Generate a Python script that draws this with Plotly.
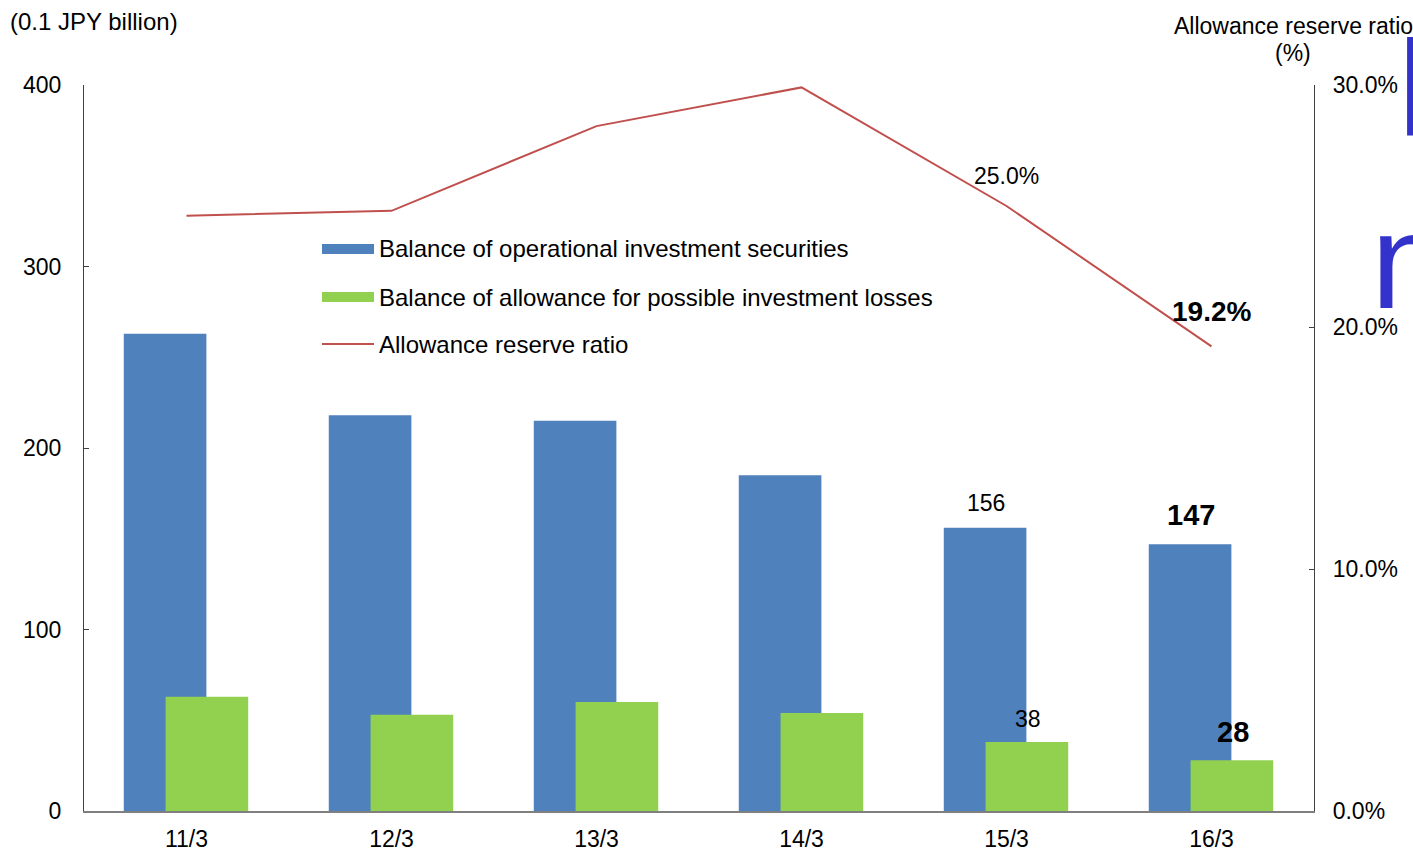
import plotly.graph_objects as go

categories = ["11/3", "12/3", "13/3", "14/3", "15/3", "16/3"]
securities = [263, 218, 215, 185, 156, 147]
allowance = [63, 53, 60, 54, 38, 28]
ratio = [0.246, 0.248, 0.283, 0.299, 0.250, 0.192]
series_names = ["Balance of operational investment securities",
                "Balance of allowance for possible investment losses",
                "Allowance reserve ratio"]

BLUE = "#4F81BD"
GREEN = "#92D050"
RED = "#C0504D"
FONT = "Liberation Sans, Arial, sans-serif"
FS = 23
FSL = 24

L, R, T, B = 84, 99, 85, 38
W, H = 1413, 849
PW, PH = W - L - R, H - T - B


def px(x):
    return (x - L) / PW


def py(y):
    return (H - B - y) / PH


fig = go.Figure()
fig.add_trace(go.Bar(
    x=categories, y=securities, name=series_names[0],
    marker=dict(color=BLUE, line=dict(width=0)), width=0.403, offset=-0.306,
))
fig.add_trace(go.Bar(
    x=categories, y=allowance, name=series_names[1],
    marker=dict(color=GREEN, line=dict(width=0)), width=0.403, offset=-0.102,
))
fig.add_trace(go.Scatter(
    x=categories, y=ratio, name=series_names[2], mode="lines",
    line=dict(color=RED, width=2), yaxis="y2",
))

annotations = []
# data labels
annotations.append(dict(x=categories[4], y=securities[4], text=str(securities[4]),
                        xshift=-21, yshift=25, font=dict(size=FS)))
annotations.append(dict(x=categories[5], y=securities[5], text="<b>%d</b>" % securities[5],
                        xshift=-21, yshift=29, font=dict(size=29)))
annotations.append(dict(x=categories[4], y=allowance[4], text=str(allowance[4]),
                        xshift=21, yshift=23, font=dict(size=FS)))
annotations.append(dict(x=categories[5], y=allowance[5], text="<b>%d</b>" % allowance[5],
                        xshift=21, yshift=28, font=dict(size=29)))
annotations.append(dict(x=categories[4], y=ratio[4], yref="y2", text="%.1f%%" % (ratio[4] * 100),
                        xshift=0, yshift=30, font=dict(size=FS)))
annotations.append(dict(x=categories[5], y=ratio[5], yref="y2", text="<b>%.1f%%</b>" % (ratio[5] * 100),
                        xshift=0, yshift=35, font=dict(size=28)))
for a in annotations:
    a.setdefault("yref", "y")
    a.update(xref="x", showarrow=False, yanchor="middle", xanchor="center")
    a["font"].update(color="#000000", family=FONT)

# titles
annotations.append(dict(xref="paper", yref="paper", x=px(8), y=py(22), text="(0.1 JPY billion)",
                        showarrow=False, xanchor="left", yanchor="middle",
                        font=dict(size=FSL, color="#000000", family=FONT)))
annotations.append(dict(xref="paper", yref="paper", x=px(1172), y=py(26), text="Allowance reserve ratio",
                        showarrow=False, xanchor="left", yanchor="middle",
                        font=dict(size=FS, color="#000000", family=FONT)))
annotations.append(dict(xref="paper", yref="paper", x=px(1293), y=py(53), text="(%)",
                        showarrow=False, xanchor="center", yanchor="middle",
                        font=dict(size=FS, color="#000000", family=FONT)))
# cropped overlapping slide letters at the right edge
annotations.append(dict(xref="paper", yref="paper", x=px(1396), y=py(11), text="l",
                        showarrow=False, xanchor="left", yanchor="top",
                        font=dict(size=135, color="#3333CC", family=FONT)))
annotations.append(dict(xref="paper", yref="paper", x=px(1369), y=py(339), text="n",
                        showarrow=False, xanchor="left", yanchor="bottom",
                        font=dict(size=136, color="#3333CC", family=FONT)))

# custom legend (wide swatches as in the reference)
shapes = []
legend_rows = [249, 297, 344]
legend_styles = [("bar", BLUE), ("bar", GREEN), ("line", RED)]
for name, yc, (kind, col) in zip(series_names, legend_rows, legend_styles):
    if kind == "bar":
        shapes.append(dict(type="rect", xref="paper", yref="paper", x0=px(322), x1=px(374),
                           y0=py(yc + 5), y1=py(yc - 5), fillcolor=col, line=dict(width=0)))
    else:
        shapes.append(dict(type="line", xref="paper", yref="paper", x0=px(322), x1=px(374),
                           y0=py(yc), y1=py(yc), line=dict(color=col, width=2)))
    annotations.append(dict(xref="paper", yref="paper", x=px(377), y=py(yc), text=name,
                            showarrow=False, xanchor="left", yanchor="middle",
                            font=dict(size=FSL, color="#000000", family=FONT)))

fig.update_layout(
    width=W, height=H,
    margin=dict(l=L, r=R, t=T, b=B, pad=0, autoexpand=False),
    paper_bgcolor="white", plot_bgcolor="white",
    barmode="overlay",
    font=dict(family=FONT, size=FS, color="#000000"),
    showlegend=False,
    xaxis=dict(type="category", showgrid=False, showline=True, linecolor="#7F7F7F", linewidth=1.5,
               ticks="", tickfont=dict(size=FS, color="#000000"), ticklabelstandoff=7,
               range=[-0.5, 5.5], automargin=False),
    yaxis=dict(range=[0, 400], tickvals=[0, 100, 200, 300, 400], showgrid=False, zeroline=False,
               showline=True, linecolor="#404040", linewidth=1.2, ticks="inside", ticklen=5,
               tickcolor="#404040", tickfont=dict(size=FS, color="#000000"), ticklabelstandoff=17,
               automargin=False),
    yaxis2=dict(range=[0, 0.30], tickvals=[0, 0.1, 0.2, 0.3], tickformat=".1%", overlaying="y",
                side="right", showgrid=False, zeroline=False, showline=True, linecolor="#404040",
                linewidth=1.2, ticks="inside", ticklen=5, tickcolor="#404040",
                tickfont=dict(size=FS, color="#000000"), ticklabelstandoff=13, automargin=False),
    shapes=shapes,
    annotations=annotations,
)

fig.write_html("out.html")
